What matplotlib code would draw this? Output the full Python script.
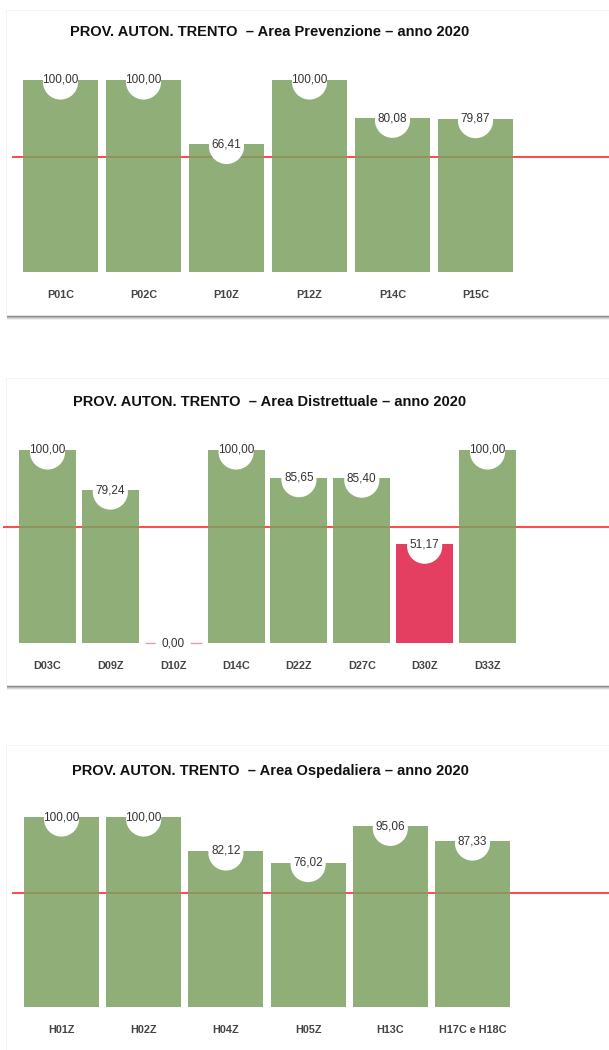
import matplotlib.pyplot as plt
from matplotlib.patches import Rectangle

plt.rcParams['font.family'] = ['Liberation Sans', 'DejaVu Sans']

W, H = 609, 1050

prev_labels = ['P01C', 'P02C', 'P10Z', 'P12Z', 'P14C', 'P15C']
prev_values = [100.00, 100.00, 66.41, 100.00, 80.08, 79.87]

dist_labels = ['D03C', 'D09Z', 'D10Z', 'D14C', 'D22Z', 'D27C', 'D30Z', 'D33Z']
dist_values = [100.00, 79.24, 0.00, 100.00, 85.65, 85.40, 51.17, 100.00]

osp_labels = ['H01Z', 'H02Z', 'H04Z', 'H05Z', 'H13C', 'H17C e H18C']
osp_values = [100.00, 100.00, 82.12, 76.02, 95.06, 87.33]

soglia = 60

GREEN = '#7ba061'
RED = '#e01c44'
LINE = '#ff2a2a'

fig = plt.figure(figsize=(W / 100, H / 100), dpi=100)
fig.patch.set_facecolor('white')


def card(top, bottom):
    # soft shadow under the white card
    for k, a in enumerate([0.06, 0.10, 0.15, 0.22]):
        off = 5 - k
        fig.add_artist(Rectangle(((6 + 1) / W, 1 - (bottom + off) / H),
                                 (W - 6) / W, (bottom + off - top - 2) / H,
                                 transform=fig.transFigure, facecolor='black',
                                 alpha=a, edgecolor='none', zorder=0))
    fig.add_artist(Rectangle((6 / W, 1 - bottom / H), (W - 6) / W, (bottom - top) / H,
                             transform=fig.transFigure, facecolor='white',
                             edgecolor='#eeeeee', linewidth=0.5, zorder=0.5))


def panel(title, title_y, labels, values, x0, first_c, slot, bw, y0, y100):
    n = len(values)
    left = (x0 - first_c) / slot
    right = (W + 5 - first_c) / slot
    ax = fig.add_axes([x0 / W, 1 - y0 / H, (W + 5 - x0) / W, (y0 - y100) / H])
    ax.set_xlim(left, right)
    ax.set_ylim(0, 100)
    ax.axis('off')
    ax.set_zorder(2)
    pos = list(range(n))
    colors = [GREEN if v >= soglia else RED for v in values]
    w = bw / slot
    ax.axhline(soglia, color=LINE, lw=1.2, zorder=1)
    ax.bar(pos, values, width=w, color=colors, alpha=0.85, zorder=2,
           linewidth=0)
    for i, v in enumerate(values):
        if v == 0:
            ax.hlines(0, i - w / 2, i + w / 2, color=RED, lw=1.0, alpha=0.45,
                      zorder=2, clip_on=False)
    px = (y0 - y100) / 100.0
    for i, v in enumerate(values):
        ax.scatter(i, v - 2 / px, s=640, color='white', edgecolors='none',
                   zorder=3, clip_on=False)
        ax.text(i, v, f'{v:.2f}'.replace('.', ','), ha='center', va='center',
                fontsize=8.5, color='#333333', zorder=4, clip_on=False)
        ax.text(i, -23 / px, labels[i], ha='center', va='center', fontsize=7.8,
                fontweight='bold', color='#444444', clip_on=False)
    fig.text(270 / W, 1 - title_y / H, title, ha='center', va='center',
             fontsize=10.5, fontweight='bold', color='#111111')


card(10, 315)
card(378, 685)
card(745, 1060)

panel('PROV. AUTON. TRENTO  – Area Prevenzione – anno 2020', 32,
      prev_labels, prev_values, 12, 60.5, 83.0, 75, 272, 80)
panel('PROV. AUTON. TRENTO  – Area Distrettuale – anno 2020', 402,
      dist_labels, dist_values, 3, 47.5, 62.86, 57, 643, 450)
panel('PROV. AUTON. TRENTO  – Area Ospedaliera – anno 2020', 771,
      osp_labels, osp_values, 12, 61.5, 82.2, 75, 1007, 817)

fig.savefig('out.png', dpi=100)
